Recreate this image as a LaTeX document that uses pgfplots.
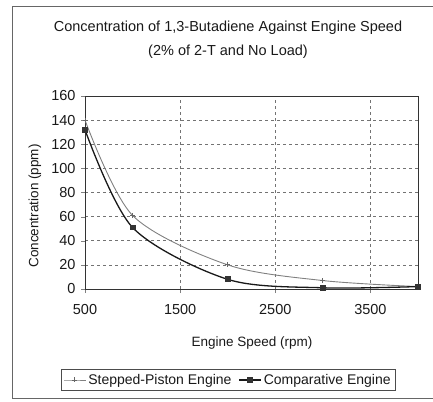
\documentclass[border=0pt]{standalone}
\usepackage{pgfplots}
\pgfplotsset{compat=1.18}
\usepackage{fontspec}
\setmainfont{Liberation Sans}
\begin{document}
\begin{tikzpicture}[x=1pt,y=1pt]
\useasboundingbox (0,0) rectangle (433,401);
\draw[black!60, line width=0.8pt] (433,395) -- (12,395) -- (12,3) -- (433,3);
\node[font=\fontsize{14.5}{16}\selectfont, text=black!90] at (228,373) {Concentration of 1,3-Butadiene Against Engine Speed};
\node[font=\fontsize{14.5}{16}\selectfont, text=black!90] at (228,349) {(2\% of 2-T and No Load)};
\node[font=\fontsize{13.5}{15}\selectfont, rotate=90, text=black!90] at (35,195) {Concentration (ppm)};
\node[font=\fontsize{13.5}{15}\selectfont, text=black!90] at (252,58) {Engine Speed (rpm)};
\begin{axis}[
  at={(85pt,112pt)}, anchor=south west,
  scale only axis, width=333pt, height=193pt,
  xmin=500, xmax=4000, ymin=0, ymax=160,
  xtick={500,1500,2500,3500},
  ytick={0,20,...,160},
  tick align=outside,
  xtick pos=bottom, ytick pos=left,
  major tick length=4pt,
  /pgf/number format/assume math mode=true,
  /pgf/number format/1000 sep={},
  ticklabel style={font=\fontsize{14.5}{16}\selectfont, text=black!90},
  xticklabel style={yshift=-8pt},
  yticklabel style={xshift=-2pt},
  grid=major,
  major grid style={black!55, dashed, line width=0.6pt},
  axis line style={black!80, line width=0.8pt},
  clip=false,
  legend columns=2,
  legend image code/.code={
    \draw[#1] (0pt,0pt) -- (11pt,0pt) -- (22pt,0pt);
    \draw[#1, only marks] plot coordinates {(11pt,0pt)};
  },
  legend style={at={(0.4295,-0.4715)}, anchor=center, draw=black!70,
    font=\fontsize{14}{16}\selectfont, text=black!90,
    /tikz/every even column/.append style={column sep=5pt},
    inner sep=2.5pt},
  legend cell align=left,
]
\addplot[black!50, line width=0.9pt, smooth, mark=+, mark size=2.5pt, mark options={black!60,solid}]
  coordinates {(500,140) (1000,61) (2000,20) (3000,7) (4000,2)};
\addlegendentry{Stepped-Piston Engine}
\addplot[black!90, line width=1.3pt, smooth, mark=square*, mark size=2.3pt, mark options={black!80,solid}]
  coordinates {(500,132) (1000,51) (2000,8) (3000,1) (4000,2)};
\addlegendentry{Comparative Engine}
\end{axis}
\end{tikzpicture}
\end{document}
